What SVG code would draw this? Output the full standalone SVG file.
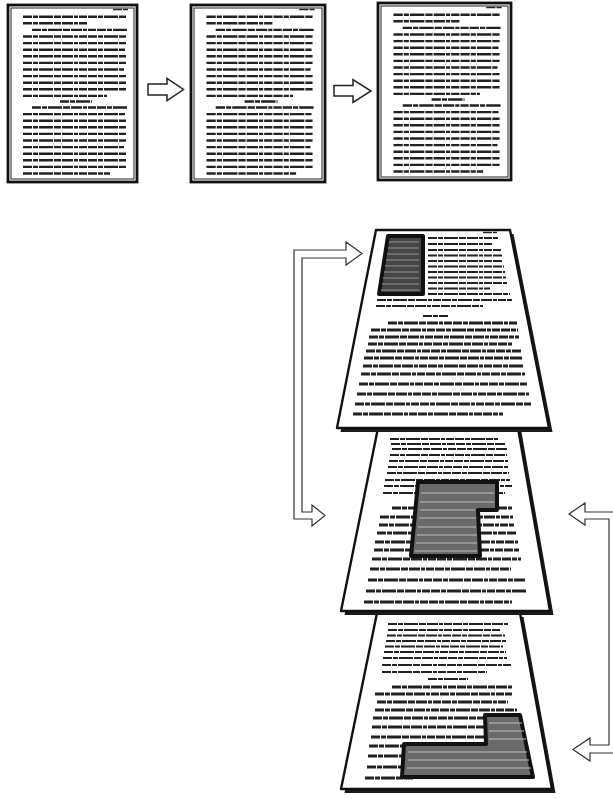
<svg xmlns="http://www.w3.org/2000/svg" xmlns:xlink="http://www.w3.org/1999/xlink" width="613" height="799" viewBox="0 0 613 799">
<style>
.bg{fill:#fff}
.pg{fill:#fff;stroke:#111;stroke-width:2.8}
.pgi{fill:none;stroke:#333;stroke-width:1.1}
.tx{fill:none;stroke:#222;stroke-width:2.4;stroke-dasharray:9 1 5 1 14 1 7 1 11 1 4 1 8 1}
.hd{stroke-width:1.5}
.tu{stroke-width:2.1}
.tl{stroke-width:2.8}
.arr{fill:#fff;stroke:#222;stroke-width:1.5;stroke-linejoin:miter}
.brk{fill:#fff;stroke:#333;stroke-width:1.2;stroke-linejoin:miter}
.shadow{fill:#1a1a1a}
.tp{fill:#fff;stroke:#111;stroke-width:2.4;stroke-linejoin:round}
.hl{stroke:#111;stroke-width:4;stroke-linejoin:round}
.hlt{fill:none;stroke:#bdbdbd;stroke-width:1.1}
</style>
<defs>
<g id="txt">
<path class="tx hd" d="M106,4.5H121"/>
<path class="tx" d="M16,11.7H120 M16,18.3H80 M25,24.9H120 M16,31.5H119 M16,38.1H120 M16,44.7H118 M16,51.3H120 M16,57.9H120 M16,64.5H117 M16,71.1H120 M16,77.7H119 M16,84.3H120 M16,90.9H100 M53,96.5H85 M25,102.5H120 M16,109.1H118 M16,115.7H120 M16,122.3H120 M16,128.9H119 M16,135.5H120 M16,142.1H117 M16,148.7H120 M16,155.3H120 M16,161.9H119 M16,168.5H103"/>
</g>
</defs>
<rect class="bg" x="0" y="0" width="613" height="799"/>

<g id="page1">
<rect class="pg" x="8" y="5" width="129" height="177"/>
<rect class="pgi" x="11" y="8" width="123" height="171"/>
<use xlink:href="#txt" href="#txt" transform="translate(7,5)"/>
</g>
<g id="page2">
<rect class="pg" x="191" y="5" width="134" height="177"/>
<rect class="pgi" x="194" y="8" width="128" height="171"/>
<use xlink:href="#txt" href="#txt" transform="translate(190,5) scale(1.03,1)"/>
</g>
<g id="page3">
<rect class="pg" x="378" y="3" width="133" height="177"/>
<rect class="pgi" x="381" y="6" width="127" height="171"/>
<use xlink:href="#txt" href="#txt" transform="translate(377,3) scale(1.03,1)"/>
</g>

<g id="layer3">
<polygon class="shadow" points="377,613 520,613 552,789 341,789" transform="translate(3.5,4)"/>
<polygon class="tp" points="377,613 520,613 552,789 341,789"/>
<path class="tx tu" d="M388,624H508 M388,630H500 M387,635.5H505 M386,641H506 M385,646.5H503 M384,652H506 M383,658H507 M382,665H512 M382,672H487 M428,679H468"/>
<path class="tx tl" d="M392,687H512 M375,694H512 M377,702H508 M375,710H517 M373,718H517 M372,727H513 M371,737H518 M369,746H520 M368,756H522 M367,767H527 M365,778H413"/>
<path class="hl" fill="#6a6a6a" d="M485,715 L520,715 L533,777 L402,777 L404,744 L486,744 Z"/>
<path class="hlt" d="M489,723H522 M489,731H524 M489,739H526 M408,752H527 M408,760H529 M407,768H531"/>
</g>

<g id="layer2">
<polygon class="shadow" points="378,428 518,428 550,611 341,611" transform="translate(3.5,4)"/>
<polygon class="tp" points="378,428 518,428 550,611 341,611"/>
<path class="tx tu" d="M390,439H498 M391,444H505 M392,449H507 M390,455H507 M389,461H508 M388,467H509 M387,473H509 M385,480H510 M384,486H512 M383,493H505"/>
<path class="tx tl" d="M392,508H512 M380,517H513 M379,525H514 M377,533H517 M375,542H518 M374,550H520 M372,559H521 M370,569H511 M368,580H525 M366,591H527 M364,602H512"/>
<path class="hl" fill="#6a6a6a" d="M418,482 L497,482 L497,510 L478,510 L480,556 L411,556 Z"/>
<path class="hlt" d="M421,493H494 M420,502H494 M420,510H475 M419,518H476 M418,527H476 M417,535H477 M416,543H477 M415,551H477"/>
</g>

<g id="layer1">
<polygon class="shadow" points="376,230 510,230 549,428 337,428" transform="translate(3.5,4)"/>
<polygon class="tp" points="376,230 510,230 549,428 337,428"/>
<path class="tx hd" d="M483,232.5H497"/>
<path class="tx tu" d="M428,238H498 M428,244H492 M428,250H501 M428,255.5H502 M428,261H503 M428,266.5H504 M428,272H505 M428,277.5H506 M428,283H507 M428,288.5H490 M428,294H510 M377,300H512 M376,306H483 M423,316H448"/>
<path class="tx tl" d="M388,323H517 M371,330H518 M369,337H519 M368,344H512 M366,351H521 M364,358H522 M363,366H524 M361,374H525 M359,384H527 M357,394H529 M355,404H531 M353,414H503"/>
<path class="hl" fill="#454545" d="M388,236 L423,236 L423,294 L379,294 Z"/>
<path class="hlt" style="stroke:#7a7a7a;stroke-width:1.4" d="M389,242H419 M388,248H419 M387,254H419 M386,260H419 M385,266H419 M384,272H419 M383,278H419 M382,284H419 M381,290H419"/>
</g>

<g id="connectors">
<polygon class="arr" points="148,84 167,84 167,78.5 183.5,89.5 167,100.5 167,95 148,95"/>
<polygon class="arr" points="334,85.5 353,85.5 353,79.5 371,91 353,102.5 353,96 334,96"/>
<path class="brk" d="M294,519 L294,250 L346,250 L346,242 L362,253.5 L346,265 L346,258 L302,258 L302,512 L312,512 L312,505 L325,515.5 L312,526 L312,519 Z"/>
<path class="brk" d="M616,512 L585,512 L585,503 L569,514 L585,525 L585,519 L609,519 L609,745 L590,745 L590,738 L573,749.5 L590,761 L590,753 L616,753 Z"/>
</g>
</svg>
